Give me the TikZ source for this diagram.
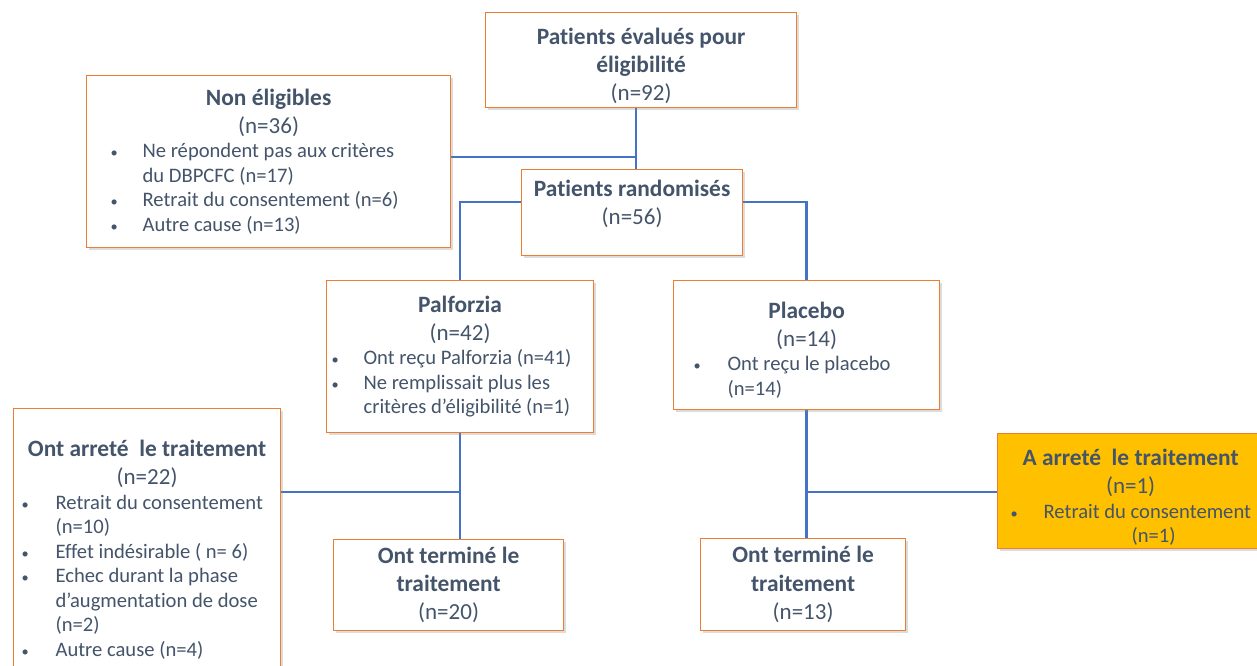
\documentclass[tikz,border=0pt]{standalone}
\usepackage{fontspec}
\setmainfont{Carlito}[Ligatures=NoCommon]
\usetikzlibrary{shadows,backgrounds}
\definecolor{texte}{HTML}{44546A}
\definecolor{cadre}{HTML}{ED7D31}
\definecolor{bleulien}{HTML}{4472C4}
\definecolor{ambre}{HTML}{FFC000}
\tikzset{
  boite/.style={draw=cadre,line width=1.2pt,fill=white,anchor=north west,
    inner xsep=0pt,inner ysep=0pt,align=flush center,text=texte,
    drop shadow={shadow xshift=2pt,shadow yshift=-2.5pt,opacity=0.3,fill=black!45}},
  trait/.style={draw=bleulien,line width=2.6pt}
}
\newcommand{\titre}[1]{{\fontsize{23.4pt}{28.5pt}\selectfont\bfseries #1\par}}
\newcommand{\effectif}[1]{{\fontsize{23pt}{28pt}\selectfont #1\par}}
\newcommand{\puce}[3]{{\fontsize{20.6pt}{24.5pt}\selectfont\leftskip=0pt\rightskip=0pt plus 1fil\parfillskip=0pt plus 1fil%
  \hangindent=#2\hangafter=1\noindent\hspace*{#1}\makebox[\dimexpr#2-#1\relax][l]{\scalebox{0.7}{\textbullet}}#3\par}}
\newcommand{\boite}[6][]{\node[boite,minimum width=#4,minimum height=#5,text width=#4,#1] at (#2) (#3) {#6}}

\begin{document}
\begin{tikzpicture}[x=1pt,y=-1pt]
  \useasboundingbox (0,0) rectangle (1257,665);
  \clip (0,0) rectangle (1257,665);

  % boites
  \boite[text height=28pt]{485,12}{eval}{311pt}{95pt}{\titre{Patients évalués pour\\éligibilité}\effectif{(n=92)}};
  \boite{86,75}{nonelig}{364pt}{172pt}{\titre{Non éligibles}\effectif{(n=36)}%
    \puce{24pt}{56pt}{Ne répondent pas aux critères\newline du DBPCFC (n=17)}%
    \puce{24pt}{56pt}{Retrait du consentement (n=6)}%
    \puce{24pt}{56pt}{Autre cause (n=13)}};
  \boite[text depth=48pt]{521,169}{random}{221pt}{86pt}{\titre{Patients randomisés}\effectif{(n=56)}};
  \boite{326,280}{palf}{267pt}{152pt}{\titre{Palforzia}\effectif{(n=42)}%
    \puce{5pt}{37pt}{Ont reçu Palforzia (n=41)}%
    \puce{5pt}{37pt}{Ne remplissait plus les\newline critères d’éligibilité (n=1)}};
  \boite[text height=26pt]{673,280}{plac}{266pt}{129pt}{\titre{Placebo}\effectif{(n=14)}%
    \puce{20pt}{54pt}{Ont reçu le placebo\newline (n=14)}};
  \boite{13,408}{arretG}{267pt}{282pt}{\titre{Ont arreté\ \ le traitement}\effectif{(n=22)}%
    \puce{8pt}{42pt}{Retrait du consentement\newline (n=10)}%
    \puce{8pt}{42pt}{Effet indésirable ( n= 6)}%
    \puce{8pt}{42pt}{Echec durant la phase\newline d’augmentation de dose\newline (n=2)}%
    \puce{8pt}{42pt}{Autre cause (n=4)}};
  \boite[fill=ambre,text height=29pt]{997,433}{arretD}{266pt}{115pt}{\titre{A arreté\ \ le traitement}\effectif{(n=1)}%
    \puce{13pt}{46pt}{Retrait du consentement}%
    {\fontsize{20.6pt}{24.5pt}\selectfont\leftskip=46pt plus 1fil\rightskip=0pt plus 1fil\parfillskip=0pt\noindent(n=1)\par}};
  \boite{333,539}{termG}{230pt}{91pt}{\titre{Ont terminé le\\traitement}\effectif{(n=20)}};
  \boite{700,538}{termD}{205pt}{92pt}{\titre{Ont terminé le\\traitement}\effectif{(n=13)}};

  % liaisons
  \coordinate (tronc) at (636,157);
  \coordinate (brG) at (460,202);
  \coordinate (brD) at (805,202);
  \coordinate (jG) at (460,492);
  \coordinate (jD) at (805,492);
  \begin{scope}[on background layer]
    \draw[trait] (tronc |- eval.south) -- (tronc |- random.north);
    \draw[trait] (nonelig.east |- tronc) -- (tronc);
    \draw[trait] (random.west |- brG) -| (palf.north);
    \draw[trait] (random.east |- brD) -| (plac.north);
    \draw[trait] (palf.south) -- (palf.south |- termG.north);
    \draw[trait] (arretG.east |- jG) -- (jG);
    \draw[trait] (plac.south) -- (plac.south |- termD.north);
    \draw[trait] (jD) -- (jD -| arretD.west);
  \end{scope}
\end{tikzpicture}
\end{document}
